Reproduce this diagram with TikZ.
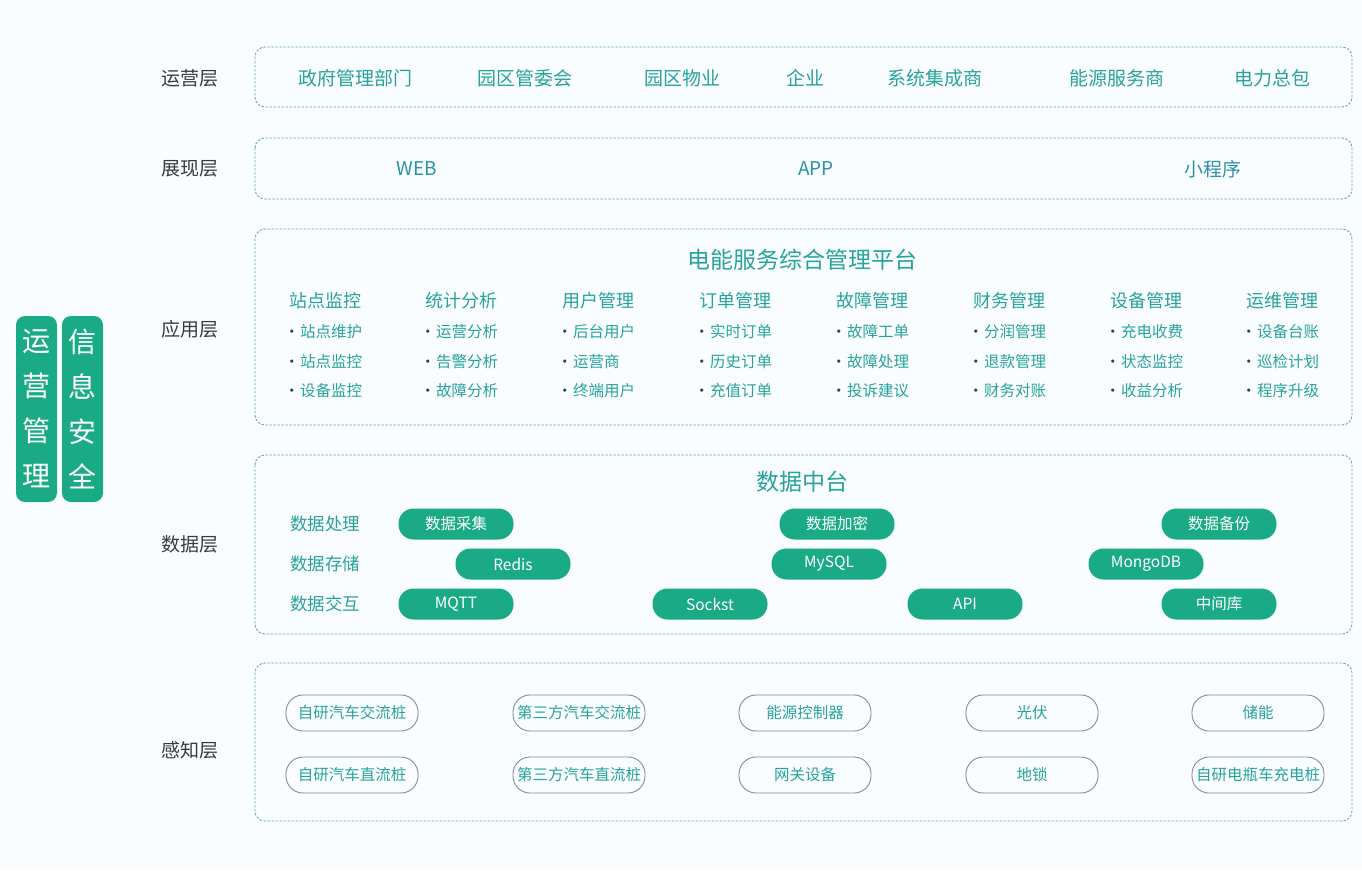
\documentclass[tikz,border=0pt]{standalone}
\usepackage{fontspec}
\setmainfont{Noto Sans CJK SC}
\definecolor{tealfill}{HTML}{1BAA86}
\definecolor{tealtext}{HTML}{27A39B}
\definecolor{bluetext}{HTML}{2A93A6}
\definecolor{dashline}{HTML}{6FA9A6}
\definecolor{greyline}{HTML}{7D8F8E}
\definecolor{labeltext}{HTML}{3A3A3A}
\definecolor{dotnavy}{HTML}{2E3D5A}
\begin{document}
\begin{tikzpicture}[x=1pt,y=-1pt]
\tikzstyle{every node}+=[inner sep=0pt]
\tikzstyle{layerbox}=[draw=dashline,line width=0.9pt,dash pattern=on 2.5pt off 1.5pt,rounded corners=10pt]
\tikzstyle{layername}=[text=labeltext,font=\fontsize{19}{22}\selectfont]
\tikzstyle{roleitem}=[text=tealtext,font=\fontsize{19}{22}\selectfont]
\tikzstyle{viewitem}=[text=bluetext,font=\fontsize{19}{22}\selectfont]
\tikzstyle{platform}=[text=tealtext,font=\fontsize{23}{26}\selectfont]
\tikzstyle{modhead}=[text=tealtext,font=\fontsize{18}{21}\selectfont]
\tikzstyle{moditem}=[text=tealtext,anchor=west,font=\fontsize{15.5}{18}\selectfont]
\tikzstyle{rowname}=[text=tealtext,anchor=west,font=\fontsize{17.5}{20}\selectfont]
\tikzstyle{datapill}=[fill=tealfill,text=white,rounded corners=15pt,minimum width=115pt,minimum height=31pt,font=\fontsize{15.5}{18}\selectfont]
\tikzstyle{devpill}=[draw=greyline,line width=0.9pt,text=tealtext,rounded corners=17pt,minimum width=132pt,minimum height=36pt,font=\fontsize{15.5}{18}\selectfont]
\tikzstyle{sidebar}=[fill=tealfill,text=white,rounded corners=9pt,minimum width=41pt,minimum height=186pt,align=center,font=\fontsize{28}{45}\selectfont]
\newcommand{\dotmark}{{\color{dotnavy}\makebox[13pt][l]{\hspace{-3pt}•}}}

\useasboundingbox (0,0) rectangle (1362,870);
\fill[white!98!cyan] (0,0) rectangle (1362,870);

% side bars
\node[sidebar] (ops) at (36.5,409) {运\\营\\管\\理};
\node[sidebar] (sec) at (82.5,409) {信\\息\\安\\全};

% layer frames
\draw[layerbox] (255,47) rectangle (1352,107);
\draw[layerbox] (255,138) rectangle (1352,199);
\draw[layerbox] (255,229) rectangle (1352,425);
\draw[layerbox] (255,455) rectangle (1352,634);
\draw[layerbox] (255,663) rectangle (1352,821);

% layer names
\node[layername] (l1) at (190,78) {运营层};
\node[layername] (l2) at (190,169) {展现层};
\node[layername] (l3) at (190,329) {应用层};
\node[layername] (l4) at (190,544) {数据层};
\node[layername] (l5) at (190,750) {感知层};

% operation layer
\foreach \x/\t [count=\i] in {355/政府管理部门,525/园区管委会,682/园区物业,805/企业,935/系统集成商,1117/能源服务商,1272/电力总包}
  \node[roleitem] (r\i) at (\x,78) {\t};

% view layer
\node[viewitem] (web) at (417,169) {WEB};
\node[viewitem] (app) at (816,169) {APP};
\node[viewitem] (mini) at (1213,169) {小程序};

% application layer
\node[platform] (plat) at (802,260) {电能服务综合管理平台};
\foreach \x/\h/\a/\b/\c [count=\i] in {
  325/站点监控/站点维护/站点监控/设备监控,
  461/统计分析/运营分析/告警分析/故障分析,
  598/用户管理/后台用户/运营商/终端用户,
  735/订单管理/实时订单/历史订单/充值订单,
  872/故障管理/故障工单/故障处理/投诉建议,
  1009/财务管理/分润管理/退款管理/财务对账,
  1146/设备管理/充电收费/状态监控/收益分析,
  1282/运维管理/设备台账/巡检计划/程序升级}
{
  \node[modhead] (m\i) at (\x,301) {\h};
  \node[moditem] (m\i a) at (\x-38,332) {\dotmark\a};
  \node[moditem] (m\i b) at (\x-38,362) {\dotmark\b};
  \node[moditem] (m\i c) at (\x-38,391) {\dotmark\c};
}

% data layer
\node[platform] (dcenter) at (802,482) {数据中台};
\node[rowname] (proc) at (290,524) {数据处理};
\node[rowname] (store) at (290,564) {数据存储};
\node[rowname] (inter) at (290,604) {数据交互};
\node[datapill] (collect) at (456,524) {数据采集};
\node[datapill] (encrypt) at (837,524) {数据加密};
\node[datapill] (backup) at (1219,524) {数据备份};
\node[datapill] (redis) at (513,564) {Redis};
\node[datapill] (mysql) at (829,564) {MySQL};
\node[datapill] (mongo) at (1146,564) {MongoDB};
\node[datapill] (mqtt) at (456,604) {MQTT};
\node[datapill] (sock) at (710,604) {Sockst};
\node[datapill] (api) at (965,604) {API};
\node[datapill] (midlib) at (1219,604) {中间库};

% sensing layer
\foreach \x/\a/\b [count=\i] in {352/自研汽车交流桩/自研汽车直流桩,579/第三方汽车交流桩/第三方汽车直流桩,805/能源控制器/网关设备,1032/光伏/地锁,1258/储能/自研电瓶车充电桩}
{
  \node[devpill] (d\i a) at (\x,713) {\a};
  \node[devpill] (d\i b) at (\x,775) {\b};
}
\end{tikzpicture}
\end{document}
